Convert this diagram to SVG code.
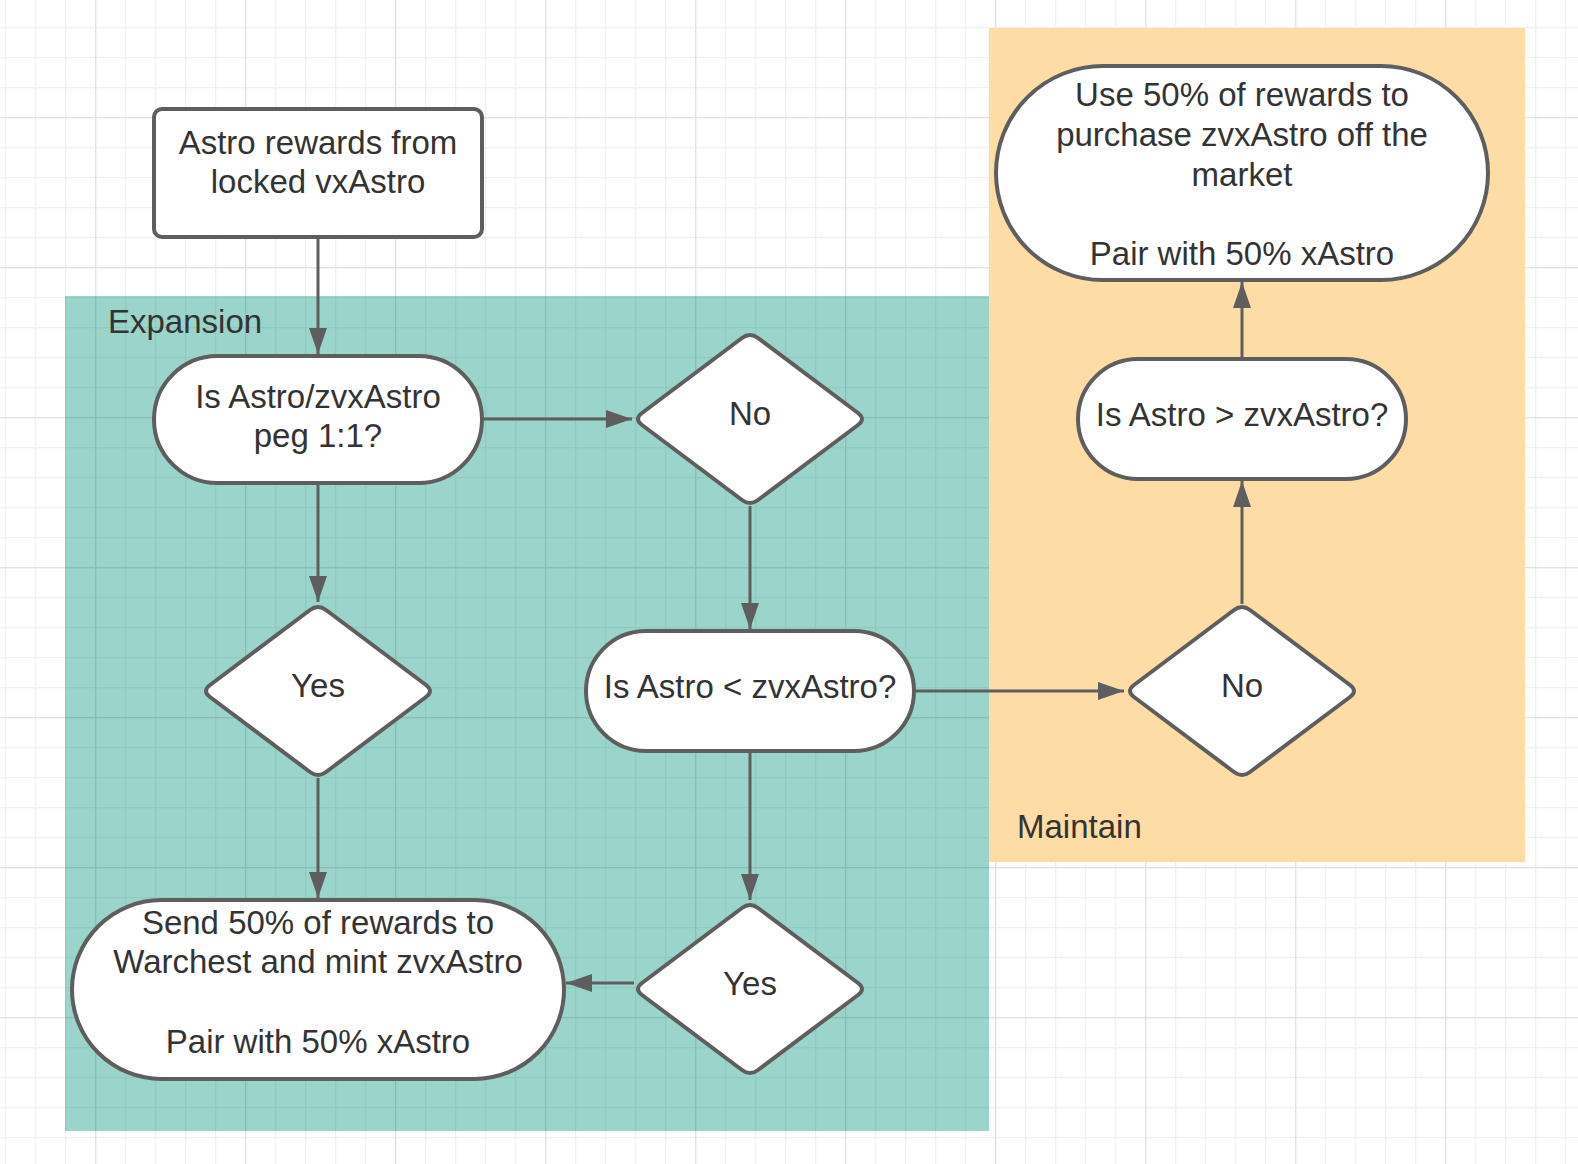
<svg xmlns="http://www.w3.org/2000/svg" width="1578" height="1164" viewBox="0 0 1578 1164">
<style>
.n{fill:#ffffff;stroke:#5e5e5e;stroke-width:4;stroke-linejoin:round}
.t{font-family:"Liberation Sans",Arial,sans-serif;font-size:33px;fill:#333333;text-anchor:middle}
.lbl{font-family:"Liberation Sans",Arial,sans-serif;font-size:33px;fill:#333333}
.c{fill:none;stroke:#5e5e5e;stroke-width:3;marker-end:url(#ah)}
</style>
<defs>
<marker id="ah" markerUnits="userSpaceOnUse" markerWidth="26" markerHeight="18" refX="26" refY="9" orient="auto">
<path d="M0,0 L26,9 L0,18 z" fill="#5e5e5e"/>
</marker>
<pattern id="minor" patternUnits="userSpaceOnUse" x="5" y="27" width="30" height="30">
<path d="M0.5,0 V30 M0,0.5 H30" fill="none" stroke="#000" stroke-opacity="0.06" stroke-width="1.5"/>
</pattern>
<pattern id="major" patternUnits="userSpaceOnUse" x="95" y="117" width="150" height="150">
<path d="M0.5,0 V150 M0,0.5 H150" fill="none" stroke="#000" stroke-opacity="0.05" stroke-width="2"/>
</pattern>
</defs>
<rect x="0" y="0" width="1578" height="1164" fill="#ffffff"/>
<rect x="65" y="296" width="924" height="835" fill="#9ad4cb"/>
<rect x="0" y="0" width="1578" height="1164" fill="url(#minor)"/>
<rect x="0" y="0" width="1578" height="1164" fill="url(#major)"/>
<rect x="989" y="28" width="536" height="834" fill="#fedca6"/>
<text class="lbl" x="108" y="333">Expansion</text>
<text class="lbl" x="1017" y="838">Maintain</text>
<g id="connectors">
<path class="c" d="M318,237 V354"/>
<path class="c" d="M482,419 H632"/>
<path class="c" d="M318,483 V602"/>
<path class="c" d="M750,506 V629"/>
<path class="c" d="M318,778 V898"/>
<path class="c" d="M750,751 V900"/>
<path class="c" d="M914,691 H1124"/>
<path class="c" d="M634,983 H566"/>
<path class="c" d="M1242,604 V481"/>
<path class="c" d="M1242,359 V282"/>
</g>
<g id="start">
<rect class="n" x="154" y="109" width="328" height="128" rx="8"/>
<text class="t" x="318" y="154">Astro rewards from</text>
<text class="t" x="318" y="193">locked vxAstro</text>
</g>
<g id="peg">
<rect class="n" x="154" y="356" width="328" height="127" rx="63.5"/>
<text class="t" x="318" y="408">Is Astro/zvxAstro</text>
<text class="t" x="318" y="447">peg 1:1?</text>
</g>
<g id="no1">
<path class="n" d="M742,338 Q750,332 758,338 L858,413 Q866,419 858,425 L758,500 Q750,506 742,500 L642,425 Q634,419 642,413 Z"/>
<text class="t" x="750" y="425">No</text>
</g>
<g id="yes1">
<path class="n" d="M310,610 Q318,604 326,610 L426,685 Q434,691 426,697 L326,772 Q318,778 310,772 L210,697 Q202,691 210,685 Z"/>
<text class="t" x="318" y="697">Yes</text>
</g>
<g id="less">
<rect class="n" x="586" y="631" width="328" height="120" rx="60"/>
<text class="t" x="750" y="698">Is Astro &lt; zvxAstro?</text>
</g>
<g id="yes2">
<path class="n" d="M742,908 Q750,902 758,908 L858,983 Q866,989 858,995 L758,1070 Q750,1076 742,1070 L642,995 Q634,989 642,983 Z"/>
<text class="t" x="750" y="995">Yes</text>
</g>
<g id="send">
<rect class="n" x="72" y="900" width="492" height="179" rx="89.5"/>
<text class="t" x="318" y="934">Send 50% of rewards to</text>
<text class="t" x="318" y="973">Warchest and mint zvxAstro</text>
<text class="t" x="318" y="1053">Pair with 50% xAstro</text>
</g>
<g id="no2">
<path class="n" d="M1234,610 Q1242,604 1250,610 L1350,685 Q1358,691 1350,697 L1250,772 Q1242,778 1234,772 L1134,697 Q1126,691 1134,685 Z"/>
<text class="t" x="1242" y="697">No</text>
</g>
<g id="greater">
<rect class="n" x="1078" y="359" width="328" height="120" rx="60"/>
<text class="t" x="1242" y="426">Is Astro &gt; zvxAstro?</text>
</g>
<g id="buy">
<rect class="n" x="996" y="66" width="492" height="214" rx="107"/>
<text class="t" x="1242" y="106">Use 50% of rewards to</text>
<text class="t" x="1242" y="146">purchase zvxAstro off the</text>
<text class="t" x="1242" y="186">market</text>
<text class="t" x="1242" y="265">Pair with 50% xAstro</text>
</g>
</svg>
